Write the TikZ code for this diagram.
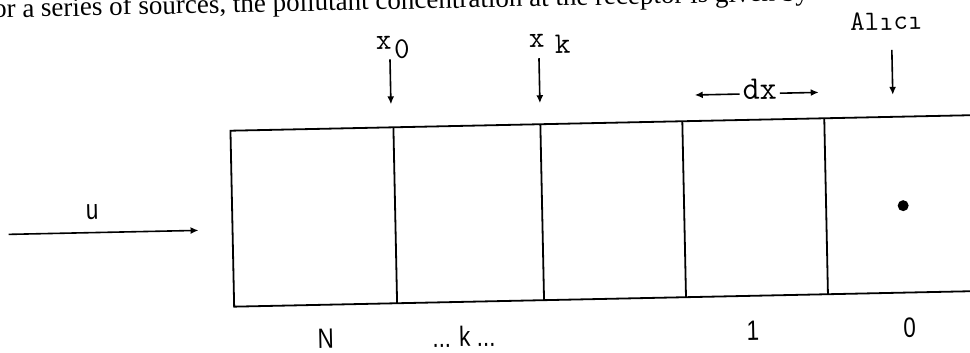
\documentclass[tikz,border=0pt]{standalone}
\usepackage{fontspec}
\setmainfont{Liberation Serif}
\newfontfamily\sansf{Liberation Sans}
\usetikzlibrary{arrows.meta}
\begin{document}
\begin{tikzpicture}[x=1pt,y=-1pt,
  line/.style={line width=1.8pt},
  arr/.style={line width=1.6pt,-{Latex[length=8pt,width=7pt]}},
  lbl/.style={inner sep=0pt,anchor=base},
  monolbl/.style={lbl,font=\ttfamily\fontsize{30}{32}\selectfont},
  sanslbl/.style={lbl,font=\sansf\fontsize{28}{30}\selectfont,xscale=0.8},
]
\useasboundingbox (0,0) rectangle (970,353);
\clip (0,0) rectangle (970,353);
\begin{scope}[rotate around={1.2:(600,200)},transform shape]
% clipped line of page text
\node[lbl,anchor=base west,font=\fontsize{27}{30}\selectfont] (pagetext) at (-3,5) {or a series of sources, the pollutant concentration at the receptor is given by};
% the strip of cells
\coordinate (tl) at (232,123);
\coordinate (br) at (990,299);
\draw[line] (br) |- (tl) |- (br);
\foreach \i/\x in {1/395,2/542,3/684,4/826}{
  \coordinate (t\i) at (\x,123);
  \coordinate (b\i) at (\x,299);
  \draw[line] (t\i) -- (b\i);
}
% receptor point
\fill (903,212) circle (5.5);
% wind arrow
\coordinate (us) at (8,222);
\coordinate (ue) at (198,222);
\draw[arr] (us) -- (ue);
\node[sanslbl] (u) at (92,209) {u};
% x_0
\node[monolbl] (x0) at (387,45) {x};
\node[monolbl] (x0s) at (405,54) {0};
\coordinate (a0s) at (393,55);
\coordinate (a0e) at (393,100);
\draw[arr] (a0s) -- (a0e);
% x_k
\node[monolbl] (xk) at (540,46) {x};
\node[monolbl] (xks) at (566,53) {k};
\coordinate (aks) at (542,57);
\coordinate (ake) at (542,102);
\draw[arr] (aks) -- (ake);
% receptor
\node[monolbl,font=\ttfamily\fontsize{28}{30}\selectfont] (alici) at (890,36) {Alıcı};
\coordinate (ars) at (895,56);
\coordinate (are) at (895,101);
\draw[arr] (ars) -- (are);
% dx
\node[monolbl,font=\ttfamily\fontsize{33}{34}\selectfont,inner xsep=3pt] (dx) at (762,103) {dx};
\coordinate (dxl) at (697,97);
\coordinate (dxr) at (821,97);
\draw[arr] (dx.west |- dxl) -- (dxl);
\draw[arr] (dx.east |- dxr) -- (dxr);
% bottom labels
\node[sanslbl] (lN) at (323,343) {N};
\node[sanslbl] (lk) at (461,344) {... k ...};
\node[sanslbl] (l1) at (750,344) {1};
\node[sanslbl] (l0) at (907,344) {0};
\end{scope}
\end{tikzpicture}
\end{document}
